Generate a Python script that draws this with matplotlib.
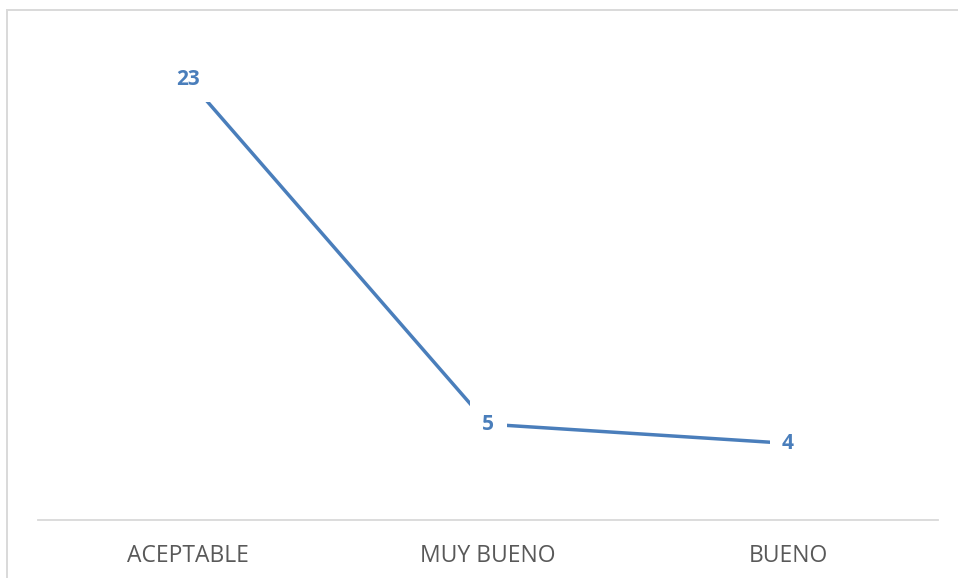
import matplotlib.pyplot as plt
from matplotlib.patches import Rectangle

# Data
categories = ['ACEPTABLE', 'MUY BUENO', 'BUENO']
values = [23, 5, 4]

line_color = '#4a7ebb'
grid_color = '#d9d9d9'

fig = plt.figure(figsize=(9.58, 5.78), dpi=100)
ax = fig.add_axes([38/958, 1 - 520/578, 900/958, (520 - 41)/578])

x = list(range(len(categories)))
ax.plot(x, values, color=line_color, linewidth=2.5, solid_capstyle='butt', zorder=2)

# data labels with white box that hides the line underneath
for xi, v in zip(x, values):
    ax.text(xi, v, str(v), ha='center', va='center', color=line_color,
            fontsize=15, fontweight='bold', family='Open Sans', zorder=3,
            bbox=dict(boxstyle='square,pad=0.6', facecolor='white', edgecolor='none'))

ax.set_xlim(-0.5, len(categories) - 0.5)
ax.set_ylim(0, 25)
ax.set_xticks(x)
ax.set_xticklabels(categories, fontsize=16.5, color='#595959', family='Open Sans')
ax.tick_params(axis='x', length=0, pad=17)
ax.set_yticks([])

for s in ['left', 'right', 'top']:
    ax.spines[s].set_visible(False)
ax.spines['bottom'].set_color(grid_color)
ax.spines['bottom'].set_linewidth(1.3)

# chart border (only top and left edges fall inside the picture)
fig.patches.append(Rectangle((7/958, -0.05), 1.0, 1.05 - 10/578, transform=fig.transFigure,
                             fill=False, edgecolor=grid_color, linewidth=1.4))

fig.savefig('out.png', dpi=100)
